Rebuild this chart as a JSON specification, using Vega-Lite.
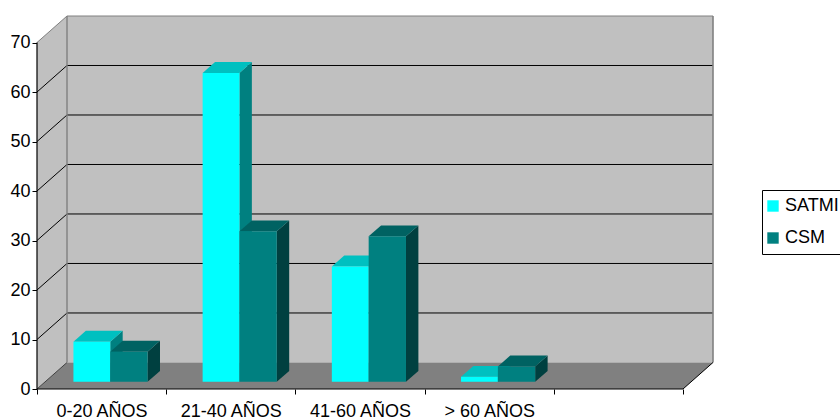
{
  "$schema": "https://vega.github.io/schema/vega-lite/v6.json",
  "width": 676,
  "height": 373,
  "autosize": {"type": "none"},
  "padding": {"left": 37, "top": 16, "right": 127, "bottom": 30},
  "background": "#ffffff",
  "config": {
    "view": {"stroke": null},
    "font": "Liberation Sans",
    "axis": {"labelFont": "Liberation Sans", "labelFontSize": 18, "labelColor": "#000000", "tickColor": "#000000", "domain": false, "grid": false},
    "legend": {"labelFont": "Liberation Sans", "labelFontSize": 18, "labelColor": "#000000"}
  },
  "datasets": {
    "barras": [
      {"grupo": "0-20 AÑOS", "serie": "SATMI", "valor": 8.1},
      {"grupo": "0-20 AÑOS", "serie": "CSM", "valor": 6.1},
      {"grupo": "21-40 AÑOS", "serie": "SATMI", "valor": 62.4},
      {"grupo": "21-40 AÑOS", "serie": "CSM", "valor": 30.4},
      {"grupo": "41-60 AÑOS", "serie": "SATMI", "valor": 23.3},
      {"grupo": "41-60 AÑOS", "serie": "CSM", "valor": 29.4},
      {"grupo": "> 60 AÑOS", "serie": "SATMI", "valor": 1.0},
      {"grupo": "> 60 AÑOS", "serie": "CSM", "valor": 3.1}
    ],
    "marcas": [
      {"v": 0}, {"v": 10}, {"v": 20}, {"v": 30}, {"v": 40}, {"v": 50}, {"v": 60}, {"v": 70}
    ]
  },
  "layer": [
    {
      "data": {"name": "marcas"},
      "transform": [
        {"filter": "datum.v == 0"},
        {"calculate": "0", "as": "frente"},
        {"calculate": "1", "as": "fondo"},
        {"fold": ["frente", "fondo"], "as": ["lado", "t"]},
        {"calculate": "datum.t * 0.2322", "as": "px"},
        {"calculate": "datum.t * 5.36", "as": "py"},
        {"calculate": "70 + datum.t * 5.36", "as": "py2"}
      ],
      "mark": {"type": "area", "orient": "vertical", "color": "#C0C0C0"},
      "encoding": {
        "x": {
          "field": "px", "type": "quantitative",
          "scale": {"domain": [0, 5.2322], "nice": false, "zero": false},
          "axis": {
            "title": null,
            "values": [0, 0.5, 1, 1.5, 2, 2.5, 3, 3.5, 4, 4.5, 5],
            "labelExpr": "datum.value % 1 == 0 ? '' : ['0-20 AÑOS','21-40 AÑOS','41-60 AÑOS','> 60 AÑOS'][floor(datum.value)]",
            "tickOpacity": {"condition": {"test": "datum.value % 1 == 0", "value": 1}, "value": 0},
            "tickSize": 5,
            "labelPadding": 8,
            "labelFlush": false,
            "labelOverlap": false
          }
        },
        "y": {
          "field": "py", "type": "quantitative",
          "scale": {"domain": [0, 75.36], "nice": false},
          "axis": {
            "title": null,
            "values": [0, 10, 20, 30, 40, 50, 60, 70],
            "tickSize": 5,
            "labelPadding": 2
          }
        },
        "y2": {"field": "py2"}
      }
    },
    {
      "data": {"name": "marcas"},
      "layer": [
        {
          "transform": [{"filter": "datum.v == 0"}],
          "mark": {"type": "rect", "color": "#C0C0C0"},
          "encoding": {
            "x": {"datum": 0.2322, "type": "quantitative"},
            "x2": {"datum": 5.2322},
            "y": {"datum": 5.36, "type": "quantitative"},
            "y2": {"datum": 75.36}
          }
        },
        {
          "transform": [
            {"filter": "datum.v == 0"},
            {"calculate": "0", "as": "frente"},
            {"calculate": "1", "as": "fondo"},
            {"fold": ["frente", "fondo"], "as": ["lado", "t"]},
            {"calculate": "datum.t * 0.2322", "as": "px"},
            {"calculate": "5 + datum.t * 0.2322", "as": "px2"},
            {"calculate": "datum.t * 5.36", "as": "py"}
          ],
          "mark": {"type": "area", "orient": "horizontal", "color": "#808080"},
          "encoding": {
            "y": {"field": "py", "type": "quantitative"},
            "x": {"field": "px", "type": "quantitative"},
            "x2": {"field": "px2"}
          }
        },
        {
          "transform": [{"calculate": "datum.v + 5.36", "as": "vb"}],
          "mark": {"type": "rule", "strokeWidth": 1},
          "encoding": {
            "x": {"datum": 0, "type": "quantitative"},
            "x2": {"datum": 0.2322},
            "y": {"field": "v", "type": "quantitative"},
            "y2": {"field": "vb"},
            "stroke": {"condition": [{"test": "datum.v == 70", "value": "#808080"}, {"test": "datum.v == 0", "value": "#404040"}], "value": "#000000"}
          }
        },
        {
          "transform": [{"filter": "datum.v > 0"}, {"calculate": "datum.v + 5.36", "as": "vb"}],
          "mark": {"type": "rule", "strokeWidth": 1},
          "encoding": {
            "x": {"datum": 0.2322, "type": "quantitative"},
            "x2": {"datum": 5.2322},
            "y": {"field": "vb", "type": "quantitative"},
            "stroke": {"condition": {"test": "datum.v == 70", "value": "#808080"}, "value": "#000000"},
            "strokeWidth": {"condition": {"test": "datum.v == 70", "value": 1.6}, "value": 1}
          }
        },
        {
          "transform": [{"filter": "datum.v == 0"}],
          "mark": {"type": "rule", "color": "#808080", "strokeWidth": 1.4},
          "encoding": {
            "x": {"datum": 0.2322, "type": "quantitative"},
            "y": {"datum": 5.36, "type": "quantitative"},
            "y2": {"datum": 75.36}
          }
        },
        {
          "transform": [{"filter": "datum.v == 0"}],
          "mark": {"type": "rule", "color": "#808080", "strokeWidth": 1.6},
          "encoding": {
            "x": {"datum": 5.2322, "type": "quantitative"},
            "y": {"datum": 5.36, "type": "quantitative"},
            "y2": {"datum": 75.36}
          }
        }
      ]
    },
    {
      "data": {"name": "barras"},
      "transform": [
        {"calculate": "indexof(['0-20 AÑOS','21-40 AÑOS','41-60 AÑOS','> 60 AÑOS'], datum.grupo)", "as": "i"},
        {"calculate": "datum.i + (datum.serie == 'SATMI' ? 0.282 : 0.567)", "as": "x0"},
        {"calculate": "datum.i + (datum.serie == 'SATMI' ? 0.567 : 0.856)", "as": "x1"},
        {"calculate": "1.45 + datum.valor", "as": "cima"},
        {"calculate": "0", "as": "frente"},
        {"calculate": "1", "as": "fondo"},
        {"fold": ["frente", "fondo"], "as": ["cara", "t"]},
        {"calculate": "datum.x0 + datum.t * 0.096", "as": "fx0"},
        {"calculate": "datum.x1 + datum.t * 0.096", "as": "fx1"},
        {"calculate": "1.45 + datum.t * 2.2", "as": "by"},
        {"calculate": "datum.cima + datum.t * 2.2", "as": "ty"}
      ],
      "layer": [
        {
          "transform": [{"filter": "datum.serie == 'SATMI'"}],
          "mark": {"type": "area", "orient": "vertical", "color": "#008080"},
          "encoding": {
            "x": {"field": "fx1", "type": "quantitative"},
            "y": {"field": "by", "type": "quantitative"},
            "y2": {"field": "ty"},
            "detail": {"field": "grupo"}
          }
        },
        {
          "transform": [{"filter": "datum.serie == 'SATMI'"}],
          "mark": {"type": "area", "orient": "horizontal", "color": "#00C0C0"},
          "encoding": {
            "y": {"field": "ty", "type": "quantitative"},
            "x": {"field": "fx0", "type": "quantitative"},
            "x2": {"field": "fx1"},
            "detail": {"field": "grupo"}
          }
        },
        {
          "transform": [{"filter": "datum.serie == 'SATMI' && datum.t == 0"}],
          "mark": {"type": "rect"},
          "encoding": {
            "x": {"field": "x0", "type": "quantitative"},
            "x2": {"field": "x1"},
            "y": {"field": "cima", "type": "quantitative"},
            "y2": {"field": "by"},
            "color": {
              "field": "serie", "type": "nominal",
              "scale": {"domain": ["SATMI", "CSM"], "range": ["#00FFFF", "#008080"]},
              "legend": {"title": null, "orient": "none", "legendX": 725, "legendY": 174, "direction": "vertical", "symbolType": "square", "symbolSize": 130, "symbolStrokeWidth": 0, "strokeColor": "#000000", "fillColor": "#ffffff", "padding": 7, "rowPadding": 14, "labelOffset": 3, "symbolOffset": -5, "labelFontSize": 18}
            }
          }
        },
        {
          "transform": [{"filter": "datum.serie == 'CSM'"}],
          "mark": {"type": "area", "orient": "vertical", "color": "#004040"},
          "encoding": {
            "x": {"field": "fx1", "type": "quantitative"},
            "y": {"field": "by", "type": "quantitative"},
            "y2": {"field": "ty"},
            "detail": {"field": "grupo"}
          }
        },
        {
          "transform": [{"filter": "datum.serie == 'CSM'"}],
          "mark": {"type": "area", "orient": "horizontal", "color": "#006262"},
          "encoding": {
            "y": {"field": "ty", "type": "quantitative"},
            "x": {"field": "fx0", "type": "quantitative"},
            "x2": {"field": "fx1"},
            "detail": {"field": "grupo"}
          }
        },
        {
          "transform": [{"filter": "datum.serie == 'CSM' && datum.t == 0"}],
          "mark": {"type": "rect"},
          "encoding": {
            "x": {"field": "x0", "type": "quantitative"},
            "x2": {"field": "x1"},
            "y": {"field": "cima", "type": "quantitative"},
            "y2": {"field": "by"},
            "color": {"field": "serie", "type": "nominal"}
          }
        }
      ]
    },
    {
      "data": {"name": "marcas"},
      "transform": [{"filter": "datum.v == 0"}],
      "layer": [
        {
          "mark": {"type": "rule", "color": "#000000", "strokeWidth": 1.2},
          "encoding": {
            "x": {"datum": 0, "type": "quantitative"},
            "y": {"datum": 0, "type": "quantitative"},
            "y2": {"datum": 70}
          }
        },
        {
          "mark": {"type": "rule", "color": "#000000", "strokeWidth": 1.2},
          "encoding": {
            "x": {"datum": 0, "type": "quantitative"},
            "x2": {"datum": 5},
            "y": {"datum": 0, "type": "quantitative"}
          }
        },
        {
          "mark": {"type": "rule", "color": "#000000", "strokeWidth": 1},
          "encoding": {
            "x": {"datum": 5, "type": "quantitative"},
            "x2": {"datum": 5.2322},
            "y": {"datum": 0, "type": "quantitative"},
            "y2": {"datum": 5.36}
          }
        }
      ]
    }
  ]
}
